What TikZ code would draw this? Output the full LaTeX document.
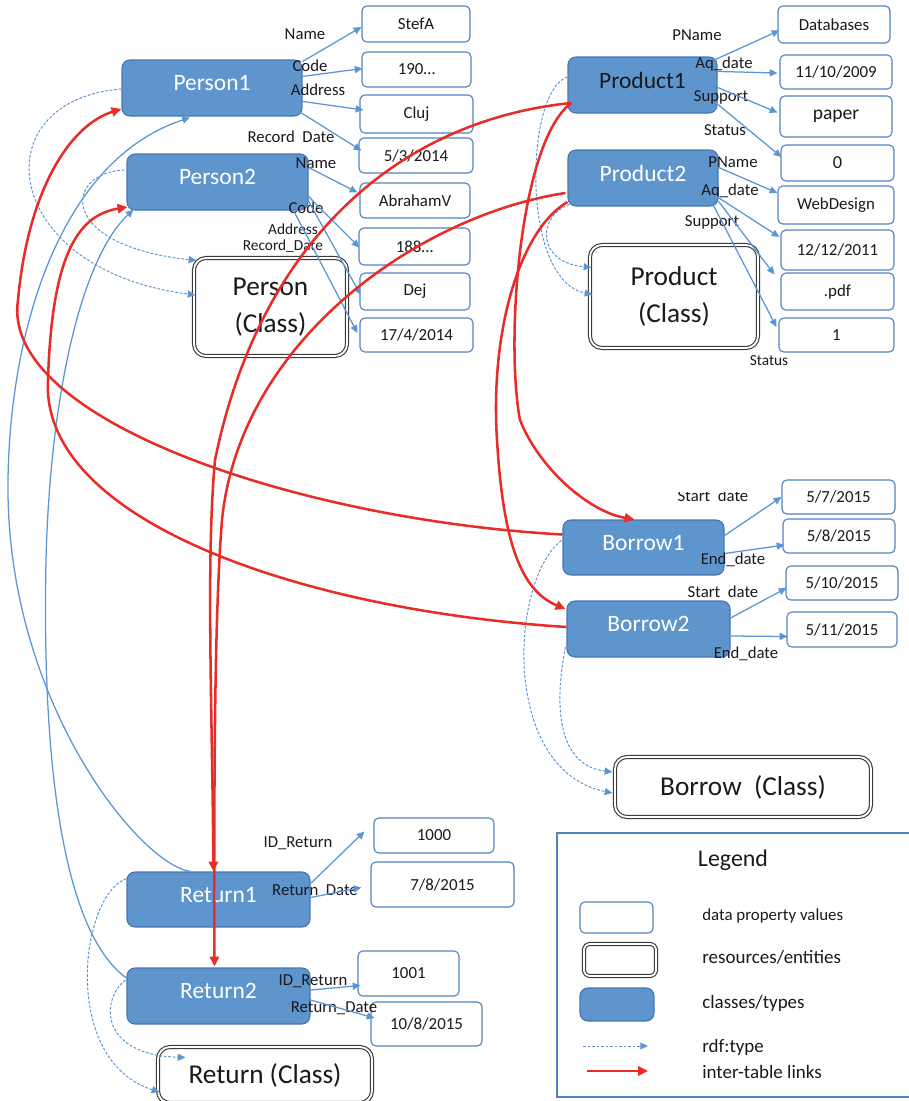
\documentclass[tikz,border=0pt]{standalone}
\usepackage{fontspec}
\setmainfont{Carlito}
\usetikzlibrary{arrows.meta,calc}

\definecolor{entfill}{RGB}{95,149,205}
\definecolor{entdraw}{RGB}{70,118,178}
\definecolor{valdraw}{RGB}{80,131,192}
\definecolor{lnblue}{RGB}{90,150,212}
\definecolor{lnred}{RGB}{230,45,40}
\definecolor{clsdraw}{RGB}{60,60,60}
\definecolor{txt}{RGB}{25,25,30}

\tikzset{
  sz/.style 2 args={minimum width=#1*0.025cm, minimum height=#2*0.025cm},
  ent/.style={draw=entdraw, fill=entfill, line width=0.8pt, rounded corners=0.2cm,
    inner sep=0pt, text=white, text depth=0.25cm, font=\fontsize{16.7}{20}\selectfont},
  cls/.style={draw=clsdraw, double=white, double distance=1.3pt, line width=0.8pt,
    rounded corners=0.3cm, inner sep=0pt, align=center, text=txt,
    font=\fontsize{19.4}{26.5}\selectfont},
  val/.style={draw=valdraw, fill=white, line width=0.8pt, rounded corners=0.12cm,
    inner sep=0pt, text=txt, font=\fontsize{12}{14}\selectfont},
  prop/.style={inner sep=0pt, text=txt, font=\fontsize{11.9}{14}\selectfont},
  propsm/.style={prop, font=\fontsize{10.9}{13}\selectfont},
  dataarr/.style={draw=lnblue, line width=0.9pt, -{Triangle[length=5.5pt,width=5pt]}},
  backarr/.style={dataarr},
  typearr/.style={draw=lnblue, line width=0.7pt, dash pattern=on 2pt off 1.2pt,
    -{Triangle[length=5.5pt,width=5pt]}},
  linkarr/.style={draw=lnred, line width=1.8pt, -{Triangle[length=7pt,width=6.5pt]}},
}

\begin{document}
\begin{tikzpicture}[x=0.025cm,y=-0.025cm]
\useasboundingbox (0,0) rectangle (909,1101);

% ---------- entities ----------
\node[ent, sz={180}{56}] (P1)  at (212,88)      {Person1};
\node[ent, sz={181}{56}] (P2)  at (217.5,182)   {Person2};
\node[ent, sz={149}{56}, text=txt] (Pr1) at (642.5,85) {Product1};
\node[ent, sz={150}{56}] (Pr2) at (643,178)     {Product2};
\node[ent, sz={161}{55}] (B1)  at (643.5,547.5) {Borrow1};
\node[ent, sz={163}{56}] (B2)  at (648.5,629)   {Borrow2};
\node[ent, sz={183}{55}] (R1)  at (218.5,899.5) {Return1};
\node[ent, sz={183}{56}] (R2)  at (218.5,996)   {Return2};

% ---------- classes ----------
\node[cls, sz={153}{98}]  (PC)  at (270.5,307)  {Person\\(Class)};
\node[cls, sz={168}{103}] (PrC) at (674,296.5)  {Product\\(Class)};
\node[cls, sz={256}{60}]  (BC)  at (743,787)    {Borrow\ \ (Class)};
\node[cls, sz={214}{56}]  (RC)  at (265,1075)   {Return (Class)};

% ---------- property values ----------
\node[val, sz={108}{36}] (v1) at (416,24)    {StefA};
\node[val, sz={109}{35}] (v2) at (416.5,69.5){190…};
\node[val, sz={113}{38}] (v3) at (416.5,114) {Cluj};
\node[val, sz={114}{35}] (v4) at (416,155.5) {5/3/2014};
\node[val, sz={110}{35}] (v5) at (415,200.5) {AbrahamV};
\node[val, sz={111}{37}] (v6) at (414.5,246.5){188…};
\node[val, sz={110}{37}] (v7) at (415,291.5) {Dej};
\node[val, sz={113}{34}] (v8) at (416.5,335) {17/4/2014};

\node[val, sz={112}{37}] (w1) at (834,24.5)  {Databases};
\node[val, sz={112}{34}] (w2) at (836,72)    {11/10/2009};
\node[val, sz={112}{41}, font=\fontsize{13.9}{16}\selectfont] (w3) at (836,116.5) {paper};
\node[val, sz={113}{36}, font=\fontsize{13}{15}\selectfont] (w4) at (837.5,163) {0};
\node[val, sz={116}{38}] (w5) at (836,205)   {WebDesign};
\node[val, sz={113}{40}] (w6) at (837.5,250) {12/12/2011};
\node[val, sz={113}{37}] (w7) at (837.5,291.5){.pdf};
\node[val, sz={115}{34}] (w8) at (836.5,335) {1};

\node[val, sz={113}{34}] (b1) at (838.5,497) {5/7/2015};
\node[val, sz={112}{34}] (b2) at (839,536)   {5/8/2015};
\node[val, sz={112}{34}] (b3) at (842,583)   {5/10/2015};
\node[val, sz={110}{35}] (b4) at (842,629.5) {5/11/2015};

\node[val, sz={120}{35}] (r1) at (434,835.5) {1000};
\node[val, sz={143}{45}] (r2) at (442.5,884.5){7/8/2015};
\node[val, sz={101}{45}] (r3) at (408.5,973.5){1001};
\node[val, sz={111}{44}] (r4) at (426.5,1024) {10/8/2015};

% ---------- property labels ----------
\node[prop] (l1) at (305,34)  {Name};
\node[prop] (l2) at (310,66)  {Code};
\node[prop] (l3) at (318,90)  {Address};
\node[prop] (l4) at (291,137) {Record\ \ Date};
\node[prop] (l5) at (316,163) {Name};
\node[prop] (l6) at (306,208) {Code};
\node[propsm] (l7) at (293,229) {Address};
\node[propsm] (l8) at (283,246) {Record\_Date};

\node[prop] (m1) at (697,35)  {PName};
\node[prop] (m2) at (724,64)  {Aq\_date};
\node[prop] (m3) at (721,97)  {Support};
\node[prop] (m4) at (725,130) {Status};
\node[prop] (m5) at (733,162) {PName};
\node[prop] (m6) at (730,191) {Aq\_date};
\node[prop] (m7) at (712,222) {Support};
\node[propsm] (m8) at (769,361) {Status};

\begin{scope}
  \clip (650,492) rectangle (780,510);
  \node[prop] (n1) at (713,496) {Start\ \ date};
\end{scope}
\node[prop] (n2) at (733,560) {End\_date};
\node[prop] (n3) at (723,592) {Start\ \ date};
\node[prop] (n4) at (746,654) {End\_date};

\node[prop] (o1) at (298,843)  {ID\_Return};
\node[prop] (o2) at (315,890)  {Return\ \ Date};
\node[prop] (o3) at (313,981)  {ID\_Return};
\node[prop] (o4) at (334,1008) {Return\_Date};

% ---------- data properties ----------
\draw[dataarr] ($(P1.north east)+(0,2)$)   -- ($(v1.west)+(0,3)$);
\draw[dataarr] ($(P1.north east)+(0,17)$)  -- ($(v2.west)+(1,-1)$);
\draw[dataarr] ($(P1.north east)+(0,42)$)  -- ($(v3.west)+(4,-4)$);
\draw[dataarr] ($(P1.north east)+(-2,53)$) -- ($(v4.west)+(3,-5)$);
\draw[dataarr] ($(P2.north east)+(0,14)$)  -- ($(v5.west)+(-2,-8)$);
\draw[dataarr] ($(P2.north east)+(0,43)$)  -- ($(v6.west)+(1,1)$);
\draw[dataarr] ($(P2.north east)+(-1,46)$) -- ($(v7.west)+(1,3)$);
\draw[dataarr] ($(P2.south east)+(-15,0)$) -- ($(v8.west)+(-2,-2)$);

\draw[dataarr] ($(Pr1.north east)+(-2,3)$)  -- ($(w1.west)+(2,6)$);
\draw[dataarr] ($(Pr1.north east)+(0,15)$)  -- ($(w2.west)+(-2,1)$);
\draw[dataarr] ($(Pr1.north east)+(0,31)$)  -- ($(w3.west)+(-2,-4)$);
\draw[dataarr] ($(Pr1.north east)+(-2,46)$) -- ($(w4.west)+(1,-6)$);
\draw[dataarr] ($(Pr2.north east)+(0,18)$)  -- ($(w5.west)+(0,-12)$);
\draw[dataarr] ($(Pr2.north east)+(-2,47)$) -- ($(w6.west)+(-1,-13)$);
\draw[dataarr] ($(Pr2.north east)+(0,52)$)  -- ($(w7.west)+(-6,-17)$);
\draw[dataarr] ($(Pr2.south east)+(-5,-1)$) -- ($(w8.west)+(-2,-8)$);

\draw[dataarr] ($(B1.east)+(0,-12)$) -- (b1.west);
\draw[dataarr] ($(B1.east)+(0,6)$)   -- ($(b2.west)+(2,9)$);
\draw[dataarr] ($(B2.east)+(0,-11)$) -- ($(b3.west)+(1,5)$);
\draw[dataarr] ($(B2.east)+(0,7)$)   -- ($(b4.west)+(1,7)$);

\draw[dataarr] ($(R1.east)+(0,-16)$) -- ($(r1.west)+(-9,-4)$);
\draw[dataarr] ($(R1.east)+(0,-2)$)  -- ($(r2.west)+(-9,3)$);
\draw[dataarr] ($(R2.east)+(0,-6)$)  -- ($(r3.west)+(3,12)$);
\draw[dataarr] ($(R2.east)+(0,4)$)   -- ($(r4.west)+(4,-6)$);

% ---------- rdf:type ----------
\draw[typearr] ($(P1.west)+(0,1)$) .. controls (-20,100) and (0,270) .. ($(PC.west)+(2,-12)$);
\draw[typearr] ($(P2.west)+(-2,-12)$) .. controls (65,172) and (55,245) .. ($(PC.north west)+(3,3)$);
\draw[typearr] ($(Pr1.west)+(0,-8)$) .. controls (525,90) and (520,280) .. ($(PrC.west)+(3,-2)$);
\draw[typearr] ($(Pr2.south west)+(2,-2)$) .. controls (538,215) and (535,262) .. ($(PrC.west)+(2,-29)$);
\draw[typearr] ($(B1.west)+(-1,-7)$) .. controls (510,580) and (500,770) .. ($(BC.west)+(-2,6)$);
\draw[typearr] ($(B2.west)+(-1,18)$) .. controls (555,700) and (555,765) .. ($(BC.west)+(-2,-15)$);
\draw[typearr] ($(R1.west)+(0,-21)$) .. controls (80,895) and (60,1060) .. ($(RC.west)+(2,17)$);
\draw[typearr] ($(R2.west)+(-1,-16)$) .. controls (100,1000) and (100,1055) .. ($(RC.north west)+(28,11)$);

% ---------- returns back to persons ----------
\draw[backarr] ($(R1.north)+(-28,0)$) .. controls (140,865) and (5,700) .. (8,480)
  .. controls (10,330) and (60,160) .. ($(P1.south)+(-22,1)$);
\draw[backarr] ($(R2.west)+(0,-18)$) .. controls (60,930) and (42,750) .. (46,560)
  .. controls (50,400) and (80,260) .. ($(P2.south west)+(7,-1)$);

% ---------- inter-table links ----------
\draw[linkarr] ($(B1.west)+(0,-13)$) .. controls (300,520) and (0,420) .. (18,300)
  .. controls (28,190) and (70,125) .. ($(P1.west)+(0,21)$);
\draw[linkarr] ($(B2.west)+(0,-2)$) .. controls (300,610) and (40,520) .. (48,380)
  .. controls (52,250) and (80,215) .. ($(P2.west)+(1,25)$);
\draw[linkarr] ($(Pr1.west)+(4,18)$) .. controls (400,120) and (260,240) .. (215,460)
  .. controls (206,560) and (212,700) .. ($(R1.north)+(-5,0)$);
\draw[linkarr] ($(Pr2.west)+(-2,15)$) .. controls (420,215) and (240,340) .. (222,520)
  .. controls (214,620) and (214,800) .. ($(R2.north)+(-4,-1)$);
\draw[linkarr] ($(Pr1.west)+(4,18)$) .. controls (520,140) and (505,340) .. (520,420)
  .. controls (540,470) and (590,512) .. ($(B1.north)+(-9,0)$);
\draw[linkarr] ($(Pr2.west)+(0,24)$) .. controls (520,230) and (490,330) .. (497,440)
  .. controls (503,540) and (520,590) .. ($(B2.west)+(-1,-20)$);

% ---------- legend ----------
\node[draw=valdraw, line width=0.8pt, sz={356}{264}, inner sep=0pt] (Lg) at (735,965) {};
\node[text=txt, font=\fontsize{17}{20}\selectfont] (LgT) at (733,860) {Legend};
\node[val, sz={73}{31}] (Lv) at (616.5,917.5) {};
\node[cls, rounded corners=0.15cm, sz={72}{32}] (Lr) at (620,960) {};
\node[ent, sz={74}{33}] (Lc) at (617,1004.5) {};
\coordinate (Ld1) at (583,1046);
\coordinate (Ld2) at (648,1046);
\draw[typearr] (Ld1) -- (Ld2);
\coordinate (Ll1) at (587,1071);
\coordinate (Ll2) at (648,1071);
\draw[linkarr] (Ll1) -- (Ll2);
\node[anchor=west, inner sep=0pt, text=txt, font=\fontsize{12}{14}\selectfont] (Lt1) at (702,916) {data property values};
\node[anchor=west, inner sep=0pt, text=txt, font=\fontsize{13.5}{16}\selectfont] (Lt2) at (702,957) {resources/entities};
\node[anchor=west, inner sep=0pt, text=txt, font=\fontsize{13.5}{16}\selectfont] (Lt3) at (702,1003) {classes/types};
\node[anchor=west, inner sep=0pt, text=txt, font=\fontsize{13.5}{16}\selectfont] (Lt4) at (702,1047) {rdf:type};
\node[anchor=west, inner sep=0pt, text=txt, font=\fontsize{13.5}{16}\selectfont] (Lt5) at (702,1072) {inter-table links};
\end{tikzpicture}
\end{document}
